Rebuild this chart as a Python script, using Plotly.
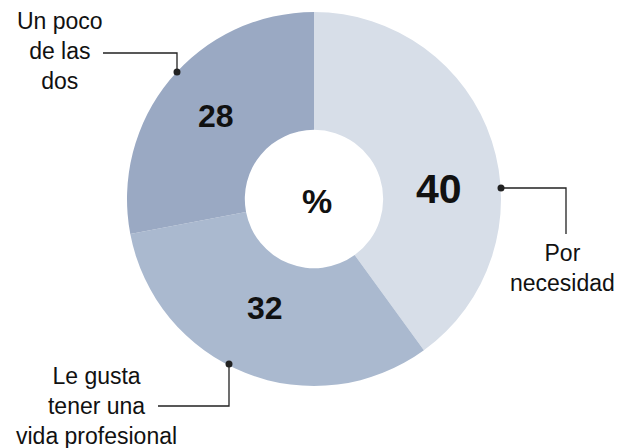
import plotly.graph_objects as go

# the page body adds an 8px margin, so the figure starts 8px in from the corner
WIN_W, WIN_H = 623, 448
OFF = 8
W, H = WIN_W - OFF, WIN_H - OFF

# ── Data ──────────────────────────────────────────────────────────────────────
categories = ["Por necesidad", "Le gusta tener una vida profesional", "Un poco de las dos"]
values = [40, 32, 28]
callout_text = ["Por<br>necesidad", "Le gusta<br>tener una<br>vida profesional", "Un poco<br>de las<br>dos"]
colors = ["#d7dee8", "#aab9cf", "#9aa9c3"]

# ── Layout helpers (screen pixel -> paper) ────────────────────────────────────
CX, CY, R = 314, 199, 187


def px(x):
    return (x - OFF) / W


def py(y):
    return 1 - (y - OFF) / H


fig = go.Figure()
fig.add_pie(
    labels=categories,
    values=values,
    sort=False,
    direction="clockwise",
    rotation=0,
    hole=0.37,
    marker=dict(colors=colors, line=dict(width=0)),
    textinfo="none",
    hoverinfo="label+value",
    showlegend=False,
    domain=dict(x=[px(CX - R), px(CX + R)], y=[py(CY + R), py(CY - R)]),
)

FONT = "Liberation Sans, Arial, sans-serif"


def note(x, y, text, size, bold=False):
    fig.add_annotation(
        x=px(x), y=py(y), xref="paper", yref="paper", showarrow=False,
        xanchor="center", yanchor="middle", align="center",
        text=f"<b>{text}</b>" if bold else text,
        font=dict(family=FONT, size=size, color="#111111"),
    )


# value labels inside the ring
value_pos = [(439, 189, 41), (265, 308, 32), (216, 116, 32)]
for v, (x, y, s) in zip(values, value_pos):
    note(x, y, v, s, bold=True)

note(317, 201, "%", 34, bold=True)

# callout labels
label_pos = [(562, 268), (96, 406), (60, 51)]
for t, (x, y) in zip(callout_text, label_pos):
    note(x, y, t, 23)

# leader lines
lines = [
    [(501, 188), (566, 188), (566, 234)],
    [(229, 364), (229, 406), (158, 406)],
    [(177, 72), (177, 53), (103, 53)],
]
for pts in lines:
    path = "M " + " L ".join(f"{px(x)},{py(y)}" for x, y in pts)
    fig.add_shape(type="path", path=path, xref="paper", yref="paper",
                  line=dict(color="#222222", width=1.3))
    x0, y0 = pts[0]
    fig.add_shape(type="circle", xref="paper", yref="paper",
                  xsizemode="pixel", ysizemode="pixel",
                  xanchor=px(x0), yanchor=py(y0),
                  x0=-3.5, x1=3.5, y0=-3.5, y1=3.5,
                  fillcolor="#222222", line=dict(width=0))

fig.update_layout(
    width=W, height=H,
    margin=dict(l=0, r=0, t=0, b=0),
    paper_bgcolor="white",
    plot_bgcolor="white",
)

fig.write_html("out.html")
